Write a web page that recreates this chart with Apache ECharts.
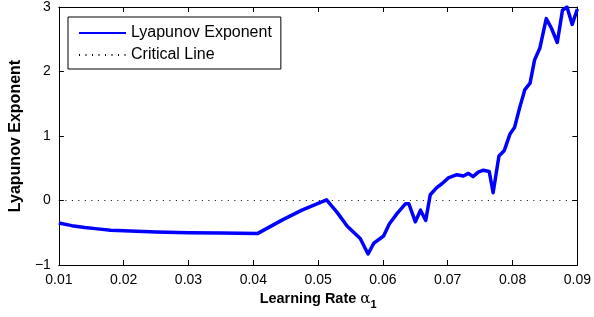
<!DOCTYPE html>
<html>
<head>
<meta charset="utf-8">
<script src="https://cdn.jsdelivr.net/npm/echarts@6/dist/echarts.min.js"></script>
<style>
  html, body { margin: 0; padding: 0; background: #fff; }
  #chart { width: 594px; height: 317px; }
</style>
</head>
<body>
<div id="chart"></div>
<script>
// learning rate (x) and lyapunov exponent (y)
const rates = [
  0.010, 0.012, 0.014, 0.016, 0.018, 0.020, 0.025, 0.030, 0.035, 0.0407,
  0.0445, 0.0475, 0.0513, 0.0529, 0.0545, 0.0565, 0.0577, 0.0586, 0.0601, 0.0610,
  0.0622, 0.0635, 0.0640, 0.0650, 0.0658, 0.0666, 0.0673, 0.0683, 0.0691, 0.0701,
  0.0704, 0.0714, 0.0724, 0.0732, 0.0739, 0.0747, 0.0755, 0.0764, 0.0770, 0.0779,
  0.0787, 0.0796, 0.0803, 0.0811, 0.0819, 0.0827, 0.0834, 0.0842, 0.0852, 0.0860,
  0.0869, 0.0877, 0.0884, 0.0892, 0.0900
]
const lyapunov = [
  -0.35, -0.39, -0.42, -0.44, -0.46, -0.47, -0.49, -0.50, -0.505, -0.51,
  -0.30, -0.15, 0.01, -0.18, -0.40, -0.59, -0.83, -0.66, -0.55, -0.36,
  -0.20, -0.05, -0.05, -0.33, -0.15, -0.31, 0.09, 0.20, 0.26, 0.35,
  0.33, 0.40, 0.38, 0.42, 0.37, 0.44, 0.47, 0.45, 0.12, 0.69,
  0.77, 1.03, 1.13, 1.44, 1.72, 1.82, 2.18, 2.36, 2.82, 2.67,
  2.45, 2.95, 3.00, 2.73, 2.97
]
const criticalX = [0.01, 0.09]
const criticalY = [0, 0]

const font = 'Liberation Sans, Arial, Helvetica, sans-serif'
const chart = echarts.init(document.getElementById('chart'), null, { renderer: 'canvas' })

const frameAxis = {
  axisLine: { show: true, onZero: false, lineStyle: { color: '#000', width: 1 } },
  axisTick: { show: true, inside: true, length: 5, lineStyle: { color: '#000' } },
  splitLine: { show: false }
}

chart.setOption({
  animation: false,
  grid: { left: 57, right: 15, top: 5, bottom: 52 },
  legend: {
    left: 68,
    top: 17,
    orient: 'vertical',
    itemWidth: 47,
    itemHeight: 14,
    itemGap: 6,
    padding: [8, 9, 6, 10],
    borderColor: '#000',
    borderWidth: 1,
    backgroundColor: '#fff',
    itemStyle: { opacity: 0 },
    textStyle: { fontFamily: font, fontSize: 16, color: '#000' },
    data: ['Lyapunov Exponent', 'Critical Line']
  },
  xAxis: [
    Object.assign({
      type: 'value',
      min: 0.01,
      max: 0.09,
      interval: 0.01,
      position: 'bottom',
      name: '{b|Learning Rate }{a|α}{s|1}',
      nameLocation: 'middle',
      nameGap: 21,
      nameTextStyle: {
        rich: {
          b: { fontFamily: font, fontSize: 14.5, fontWeight: 'bold', color: '#000' },
          a: { fontFamily: 'DejaVu Serif, serif', fontSize: 15, color: '#000' },
          s: { fontFamily: font, fontSize: 11, fontWeight: 'bold', color: '#000', padding: [11, 0, 0, 0] }
        }
      },
      axisLabel: {
        fontFamily: font, fontSize: 14, color: '#000', margin: 8,
        formatter: v => v.toFixed(2)
      }
    }, frameAxis),
    Object.assign({
      type: 'value', min: 0.01, max: 0.09, interval: 0.01, position: 'top',
      axisLabel: { show: false }
    }, frameAxis)
  ],
  yAxis: [
    Object.assign({
      type: 'value',
      min: -1,
      max: 3,
      interval: 1,
      position: 'left',
      name: 'Lyapunov Exponent',
      nameLocation: 'middle',
      nameGap: 22,
      nameTextStyle: { fontFamily: font, fontSize: 16, fontWeight: 'bold', color: '#000' },
      axisLabel: {
        fontFamily: font, fontSize: 14, color: '#000', margin: 8,
        formatter: v => (v < 0 ? '\u2212' + Math.abs(v) : String(v))
      }
    }, frameAxis),
    Object.assign({
      type: 'value', min: -1, max: 3, interval: 1, position: 'right',
      axisLabel: { show: false }
    }, frameAxis)
  ],
  series: [
    {
      name: 'Critical Line',
      type: 'line',
      symbol: 'none',
      silent: true,
      data: criticalX.map((x, i) => [x, criticalY[i]]),
      lineStyle: { color: '#000', width: 1, type: [1, 5.5] },
      itemStyle: { color: '#000' },
      z: 1
    },
    {
      name: 'Lyapunov Exponent',
      type: 'line',
      symbol: 'none',
      data: rates.map((x, i) => [x, lyapunov[i]]),
      lineStyle: { color: '#0000ff', width: 3.5, join: 'round' },
      itemStyle: { color: '#0000ff' },
      z: 2
    }
  ]
})
</script>
</body>
</html>
